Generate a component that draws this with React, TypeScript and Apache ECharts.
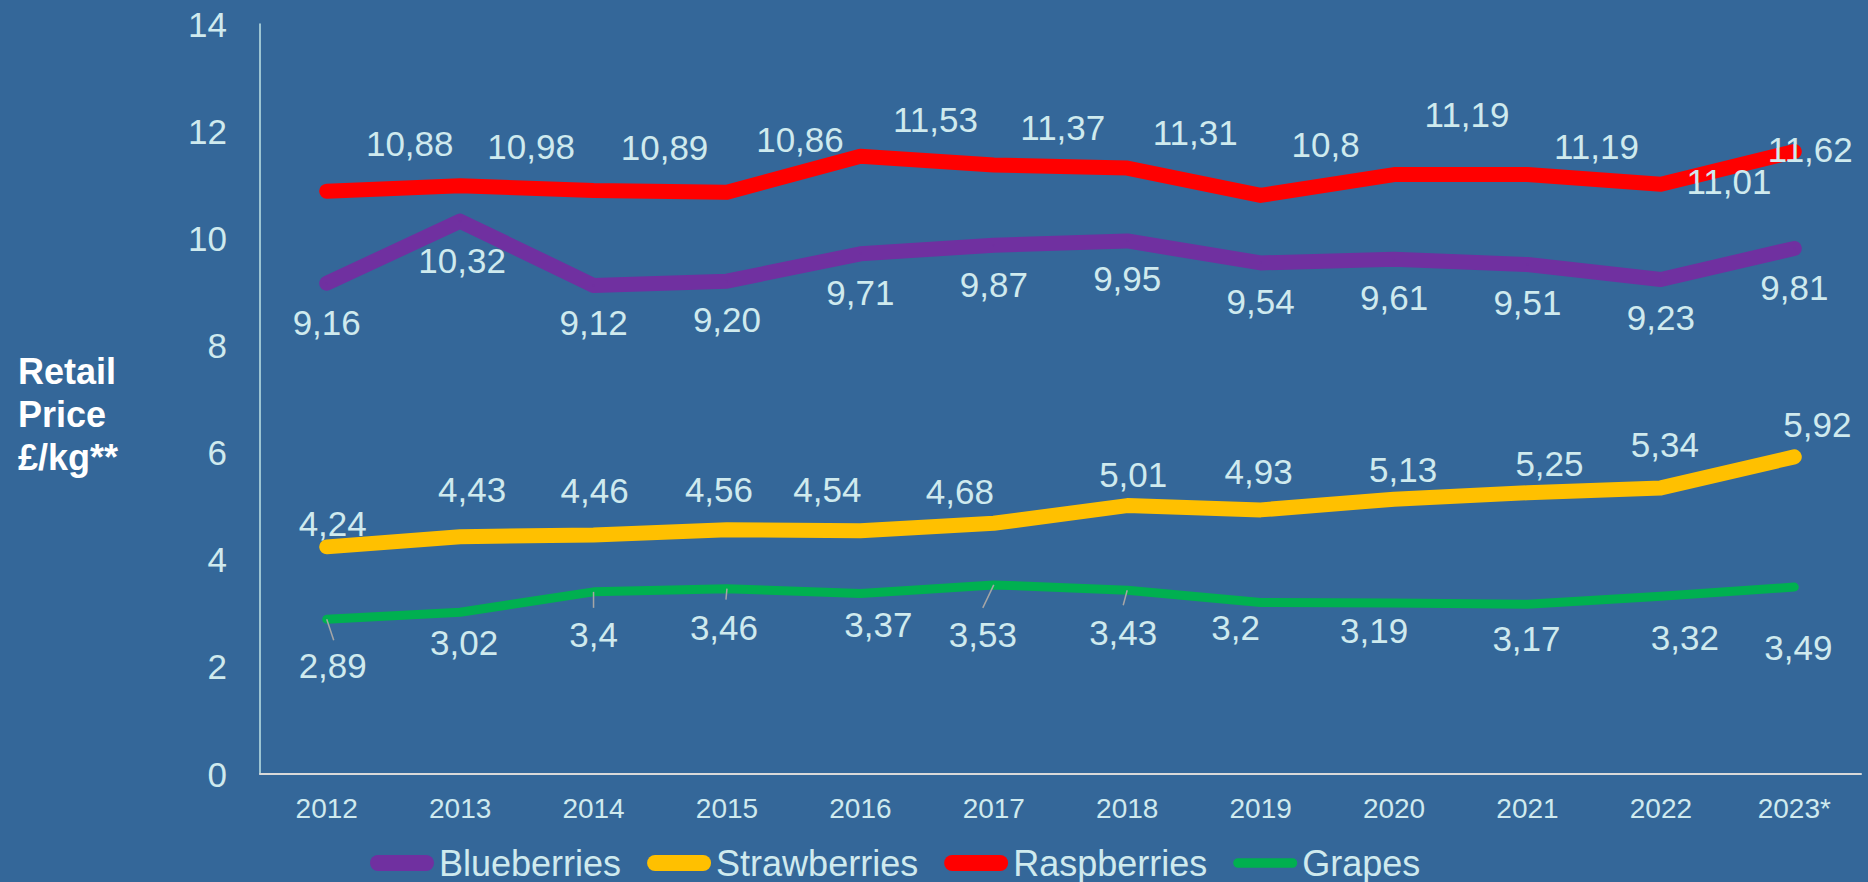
import React, { useEffect, useRef } from "react";
import * as echarts from "echarts";

const years = ["2012", "2013", "2014", "2015", "2016", "2017", "2018", "2019", "2020", "2021", "2022", "2023*"];
const yTicks = { min: 0, max: 14, interval: 2 };

const blueberries = [9.16, 10.32, 9.12, 9.2, 9.71, 9.87, 9.95, 9.54, 9.61, 9.51, 9.23, 9.81];
const strawberries = [4.24, 4.43, 4.46, 4.56, 4.54, 4.68, 5.01, 4.93, 5.13, 5.25, 5.34, 5.92];
const raspberries = [10.88, 10.98, 10.89, 10.86, 11.53, 11.37, 11.31, 10.8, 11.19, 11.19, 11.01, 11.62];
const grapes = [2.89, 3.02, 3.4, 3.46, 3.37, 3.53, 3.43, 3.2, 3.19, 3.17, 3.32, 3.49];

const blueberryLabels = ["9,16", "10,32", "9,12", "9,20", "9,71", "9,87", "9,95", "9,54", "9,61", "9,51", "9,23", "9,81"];
const strawberryLabels = ["4,24", "4,43", "4,46", "4,56", "4,54", "4,68", "5,01", "4,93", "5,13", "5,25", "5,34", "5,92"];
const raspberryLabels = ["10,88", "10,98", "10,89", "10,86", "11,53", "11,37", "11,31", "10,8", "11,19", "11,19", "11,01", "11,62"];
const grapeLabels = ["2,89", "3,02", "3,4", "3,46", "3,37", "3,53", "3,43", "3,2", "3,19", "3,17", "3,32", "3,49"];

// label offsets (layout only)
const blueberryOffsets = [[0, 39], [2, 39], [0, 37], [0, 38], [0, 39], [0, 39], [0, 38], [0, 39], [0, 38], [0, 38], [0, 38], [0, 39]];
const strawberryOffsets = [[6, -23], [12, -47], [1, -45], [-8, -40], [-33, -41], [-34, -32], [6, -31], [-2, -38], [9, -30], [22, -29], [4, -43], [23, -32]];
const raspberryOffsets = [[83, -48], [71, -39], [71, -43], [73, -53], [75, -37], [69, -37], [68, -36], [65, -51], [73, -60], [69, -28], [68, -3], [16, -2]];
const grapeOffsets = [[6, 46], [4, 30], [0, 43], [-3, 39], [18, 31], [-11, 50], [-4, 42], [-25, 25], [-20, 27], [-1, 34], [24, 41], [4, 60]];
// short leader segments for some grape labels: [category index, dx, dy] (layout only)
const grapeLeaders = [[0, 7, 21], [2, 0, 16], [3, -1, 11], [5, -11, 23], [6, -4, 15]];

const FONT = "'Liberation Sans', Arial, sans-serif";
const LABEL_COLOR = "#cfeaee";

function buildData(values: number[], labels: string[], offsets: number[][]) {
  return values.map((v, i) => ({
    value: v,
    label: { formatter: labels[i], offset: offsets[i] },
  }));
}

function makeSeries(name: string, color: string, width: number, values: number[], labels: string[], offsets: number[][]) {
  return {
    name,
    type: "line",
    data: buildData(values, labels, offsets),
    symbol: "circle",
    symbolSize: 2,
    showSymbol: true,
    itemStyle: { color },
    lineStyle: { color, width, cap: "round", join: "round" },
    label: {
      show: true,
      position: "inside",
      color: LABEL_COLOR,
      fontSize: 35,
      fontFamily: FONT,
    },
    emphasis: { disabled: true },
    silent: true,
  };
}

const thickIcon = "path://M8,0 H56 A8,8 0 0 1 56,16 H8 A8,8 0 0 1 8,0 Z";
const thinIcon = "path://M4.5,0 H55.5 A4.5,4.5 0 0 1 55.5,9 H4.5 A4.5,4.5 0 0 1 4.5,0 Z";

export default function App() {
  const ref = useRef<HTMLDivElement>(null);
  useEffect(() => {
    if (!ref.current) return;
    const chart = echarts.init(ref.current, undefined, { renderer: "svg" });
    chart.setOption({
      animation: false,
      backgroundColor: "#346799",
      grid: { left: 260, right: 7, top: 24, bottom: 108, containLabel: false },
      xAxis: {
        type: "category",
        data: years,
        boundaryGap: true,
        axisLine: { show: true, lineStyle: { color: "#d9d9d9", width: 2 } },
        axisTick: { show: false },
        axisLabel: { color: LABEL_COLOR, fontSize: 28, fontFamily: FONT, margin: 20 },
        splitLine: { show: false },
      },
      yAxis: {
        type: "value",
        min: yTicks.min,
        max: yTicks.max,
        interval: yTicks.interval,
        axisLine: { show: true, lineStyle: { color: "#bfe3e6", width: 1.5 } },
        axisTick: { show: false },
        axisLabel: { color: LABEL_COLOR, fontSize: 35, fontFamily: FONT, margin: 33 },
        splitLine: { show: false },
      },
      legend: {
        left: 370,
        top: 845,
        padding: 0,
        itemGap: 26,
        itemWidth: 64,
        itemHeight: 16,
        textStyle: { color: LABEL_COLOR, fontSize: 36, fontFamily: FONT },
        itemStyle: { borderWidth: 0 },
        lineStyle: { width: 0 },
        data: [
          { name: "Blueberries", icon: thickIcon },
          { name: "Strawberries", icon: thickIcon },
          { name: "Raspberries", icon: thickIcon },
          { name: "Grapes", icon: thinIcon },
        ],
        selectedMode: false,
      },
      series: [
        makeSeries("Blueberries", "#7030A0", 15, blueberries, blueberryLabels, blueberryOffsets),
        makeSeries("Strawberries", "#FFC000", 15, strawberries, strawberryLabels, strawberryOffsets),
        makeSeries("Raspberries", "#FF0000", 15, raspberries, raspberryLabels, raspberryOffsets),
        makeSeries("Grapes", "#00B050", 9, grapes, grapeLabels, grapeOffsets),
      ],
    });

    const leaderLines = grapeLeaders.map(([idx, dx, dy], k) => {
      const p = chart.convertToPixel({ gridIndex: 0 }, [idx, grapes[idx]]) as number[];
      return {
        type: "line",
        id: "leader" + k,
        silent: true,
        z: 10,
        shape: { x1: p[0], y1: p[1], x2: p[0] + dx, y2: p[1] + dy },
        style: { stroke: "#a6a6a6", lineWidth: 1.5 },
      };
    });

    chart.setOption({
      graphic: [
        {
          type: "text",
          id: "ytitle",
          left: 18,
          top: 350,
          style: {
            text: "Retail\nPrice\n£/kg**",
            fill: "#ffffff",
            font: `bold 36px ${FONT}`,
            lineHeight: 43,
          },
        },
        ...leaderLines,
      ],
    });
    return () => chart.dispose();
  }, []);
  return (
    <div
      ref={ref}
      style={{ position: "fixed", left: 0, top: 0, width: 1868, height: 882, background: "#346799" }}
    />
  );
}
